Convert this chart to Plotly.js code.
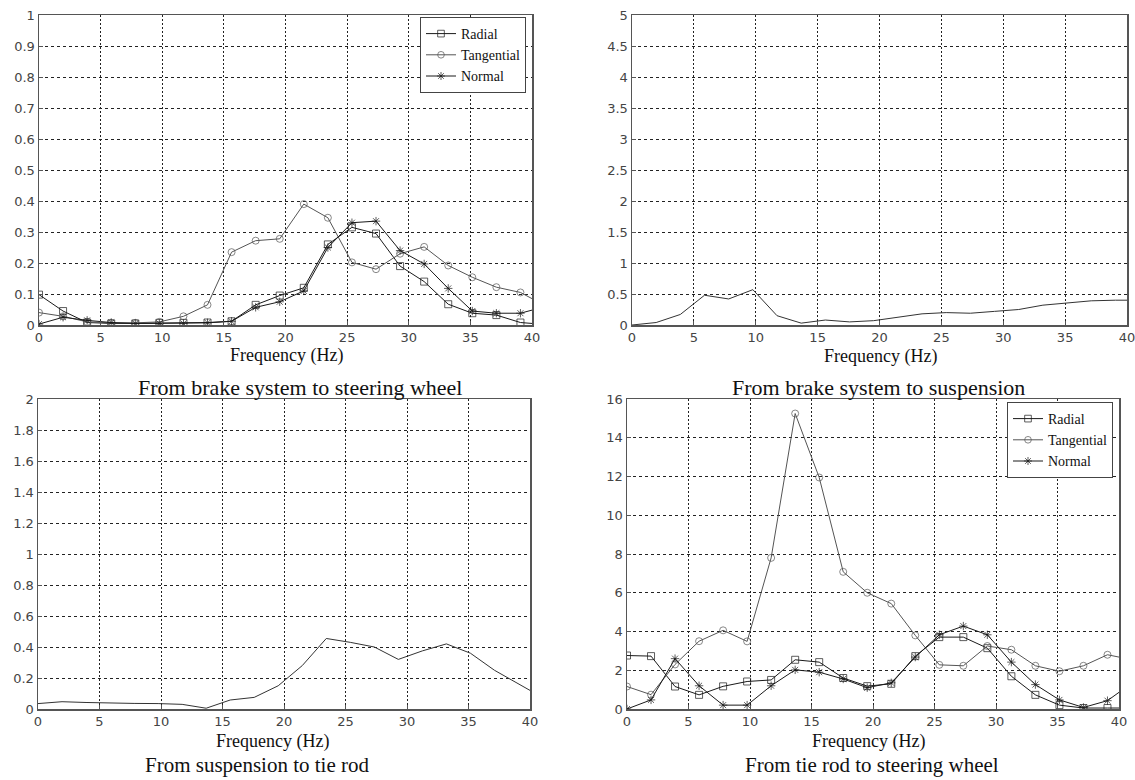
<!DOCTYPE html>
<html>
<head>
<meta charset="utf-8">
<script src="https://cdn.plot.ly/plotly-3.0.1.min.js"></script>
<style>html,body{margin:0;padding:0;background:#fff;}#chart{width:1135px;height:780px;}</style>
</head>
<body>
<div id="chart"></div>
<script>
// Frequency samples (Hz)
var freq = [0,1.953,3.906,5.859,7.813,9.766,11.719,13.672,15.625,17.578,19.531,21.484,23.438,25.391,27.344,29.297,31.25,33.203,35.156,37.109,39.063,40];

// From brake system to steering wheel
var bsRadial     = [0.098,0.045,0.008,0.005,0.005,0.007,0.007,0.008,0.012,0.065,0.095,0.12,0.26,0.315,0.295,0.19,0.14,0.067,0.038,0.032,0.008,0.005];
var bsTangential = [0.04,0.028,0.01,0.007,0.007,0.01,0.028,0.065,0.235,0.272,0.278,0.39,0.346,0.202,0.18,0.23,0.252,0.192,0.154,0.122,0.105,0.085];
var bsNormal     = [0.003,0.025,0.015,0.008,0.005,0.005,0.005,0.007,0.012,0.057,0.075,0.11,0.25,0.33,0.335,0.24,0.197,0.118,0.045,0.038,0.038,0.048];

// From brake system to suspension
var bsSuspension = [0,0.04,0.17,0.48,0.42,0.57,0.15,0.03,0.08,0.05,0.07,0.13,0.18,0.2,0.19,0.22,0.25,0.32,0.36,0.39,0.40,0.40];

// From suspension to tie rod
var suspTieRod = [0.035,0.047,0.042,0.037,0.036,0.035,0.03,0.005,0.058,0.075,0.15,0.28,0.455,0.43,0.40,0.32,0.375,0.42,0.36,0.25,0.16,0.12];

// From tie rod to steering wheel
var trRadial     = [2.76,2.73,1.16,0.73,1.17,1.42,1.5,2.54,2.42,1.6,1.18,1.3,2.73,3.71,3.71,3.14,1.69,0.73,0.2,0.05,0.05,0.05];
var trTangential = [1.16,0.74,2.3,3.5,4.06,3.49,7.8,15.25,11.95,7.08,6.0,5.44,3.8,2.28,2.23,3.25,3.06,2.23,1.95,2.23,2.8,2.68];
var trNormal     = [0,0.47,2.6,1.2,0.2,0.2,1.2,2.02,1.9,1.55,1.1,1.35,2.68,3.83,4.28,3.83,2.42,1.26,0.47,0.08,0.43,0.86];

var seriesNames = ['Radial','Tangential','Normal'];
var xTicks = [0,5,10,15,20,25,30,35,40];
var panelTitles = ['From brake system to steering wheel','From brake system to suspension','From suspension to tie rod','From tie rod to steering wheel'];
var xLabel = 'Frequency (Hz)';

// marker sizes: no marker on the final edge sample
var msz = freq.map(function(f,i){ return i === freq.length-1 ? 0 : 7; });
var symbols = ['square-open','circle-open','asterisk-open'];
var lineColors = ['#1a1a1a','#555555','#1a1a1a'];

function markedTrace(y, idx, xa, ya, legendId){
  return {
    x: freq, y: y, type: 'scatter', mode: 'lines+markers',
    name: seriesNames[idx], xaxis: xa, yaxis: ya, legend: legendId,
    line: {color: lineColors[idx], width: 1},
    marker: {symbol: symbols[idx], size: msz, color: lineColors[idx], line: {color: lineColors[idx], width: 1}}
  };
}
function plainTrace(y, xa, ya){
  return {x: freq, y: y, type: 'scatter', mode: 'lines', showlegend: false,
    xaxis: xa, yaxis: ya, line: {color: '#333', width: 1}};
}

var data = [
  markedTrace(bsRadial,0,'x','y','legend'),
  markedTrace(bsTangential,1,'x','y','legend'),
  markedTrace(bsNormal,2,'x','y','legend'),
  plainTrace(bsSuspension,'x2','y2'),
  plainTrace(suspTieRod,'x3','y3'),
  markedTrace(trRadial,0,'x4','y4','legend2'),
  markedTrace(trTangential,1,'x4','y4','legend2'),
  markedTrace(trNormal,2,'x4','y4','legend2')
];

var W = 1135, H = 780;
function dx(a,b){ return [a/W, b/W]; }
function dy(top,bottom){ return [1-bottom/H, 1-top/H]; }
var tickFont = {family: 'DejaVu Sans, Arial, sans-serif', size: 13, color: '#444'};
function xax(dom, anchor){
  return {domain: dom, anchor: anchor, range: [0,40], tickvals: xTicks, showline: true, mirror: true,
    linecolor: '#555', linewidth: 1.5, showgrid: true, gridcolor: '#222', gridwidth: 1, griddash: '2px,2px',
    zeroline: false, ticks: 'inside', ticklen: 4, tickcolor: '#555', tickfont: tickFont, fixedrange: true,
    ticklabeloverflow: 'allow'};
}
function yax(dom, anchor, max, dt){
  return {domain: dom, anchor: anchor, range: [0,max], dtick: dt, tick0: 0, showline: true, mirror: true,
    linecolor: '#555', linewidth: 1.5, showgrid: true, gridcolor: '#222', gridwidth: 1, griddash: '3px,3px',
    zeroline: false, ticks: 'inside', ticklen: 4, tickcolor: '#555', tickfont: tickFont, fixedrange: true};
}

var legStyle = {font: {family: 'Liberation Serif, Times New Roman, serif', size: 14, color: '#111'},
  bgcolor: '#fff', bordercolor: '#444', borderwidth: 1, xanchor: 'left', yanchor: 'top',
  itemwidth: 30, tracegroupgap: 0};

function ann(text, cx, cy, size){
  return {text: text, x: cx/W, y: 1-cy/H, xref: 'paper', yref: 'paper', showarrow: false,
    xanchor: 'center', yanchor: 'middle',
    font: {family: 'Liberation Serif, Times New Roman, serif', size: size, color: '#111'}};
}

var layout = {
  width: W, height: H, margin: {l:0, r:0, t:0, b:0}, paper_bgcolor: '#fff', plot_bgcolor: '#fff',
  showlegend: true,
  xaxis: xax(dx(39,532), 'y'),   yaxis: yax(dy(15,325), 'x', 1, 0.1),
  xaxis2: xax(dx(632,1127), 'y2'), yaxis2: yax(dy(15,325), 'x2', 5, 0.5),
  xaxis3: xax(dx(38,530), 'y3'), yaxis3: yax(dy(399,709), 'x3', 2, 0.2),
  xaxis4: xax(dx(627,1119), 'y4'), yaxis4: yax(dy(399,709), 'x4', 16, 2),
  legend: Object.assign({x: 420/W, y: 1-17/H}, legStyle),
  legend2: Object.assign({x: 1007/W, y: 1-402/H}, legStyle),
  annotations: [
    ann(xLabel, 286, 356, 18), ann(panelTitles[0], 300, 387, 22),
    ann(xLabel, 880, 357, 18), ann(panelTitles[1], 878, 387, 22),
    ann(xLabel, 272, 741, 18), ann(panelTitles[2], 257, 765, 21),
    ann(xLabel, 868, 741, 18), ann(panelTitles[3], 872, 765, 21)
  ]
};

Plotly.newPlot('chart', data, layout, {displayModeBar: false, staticPlot: true});
</script>
</body>
</html>
